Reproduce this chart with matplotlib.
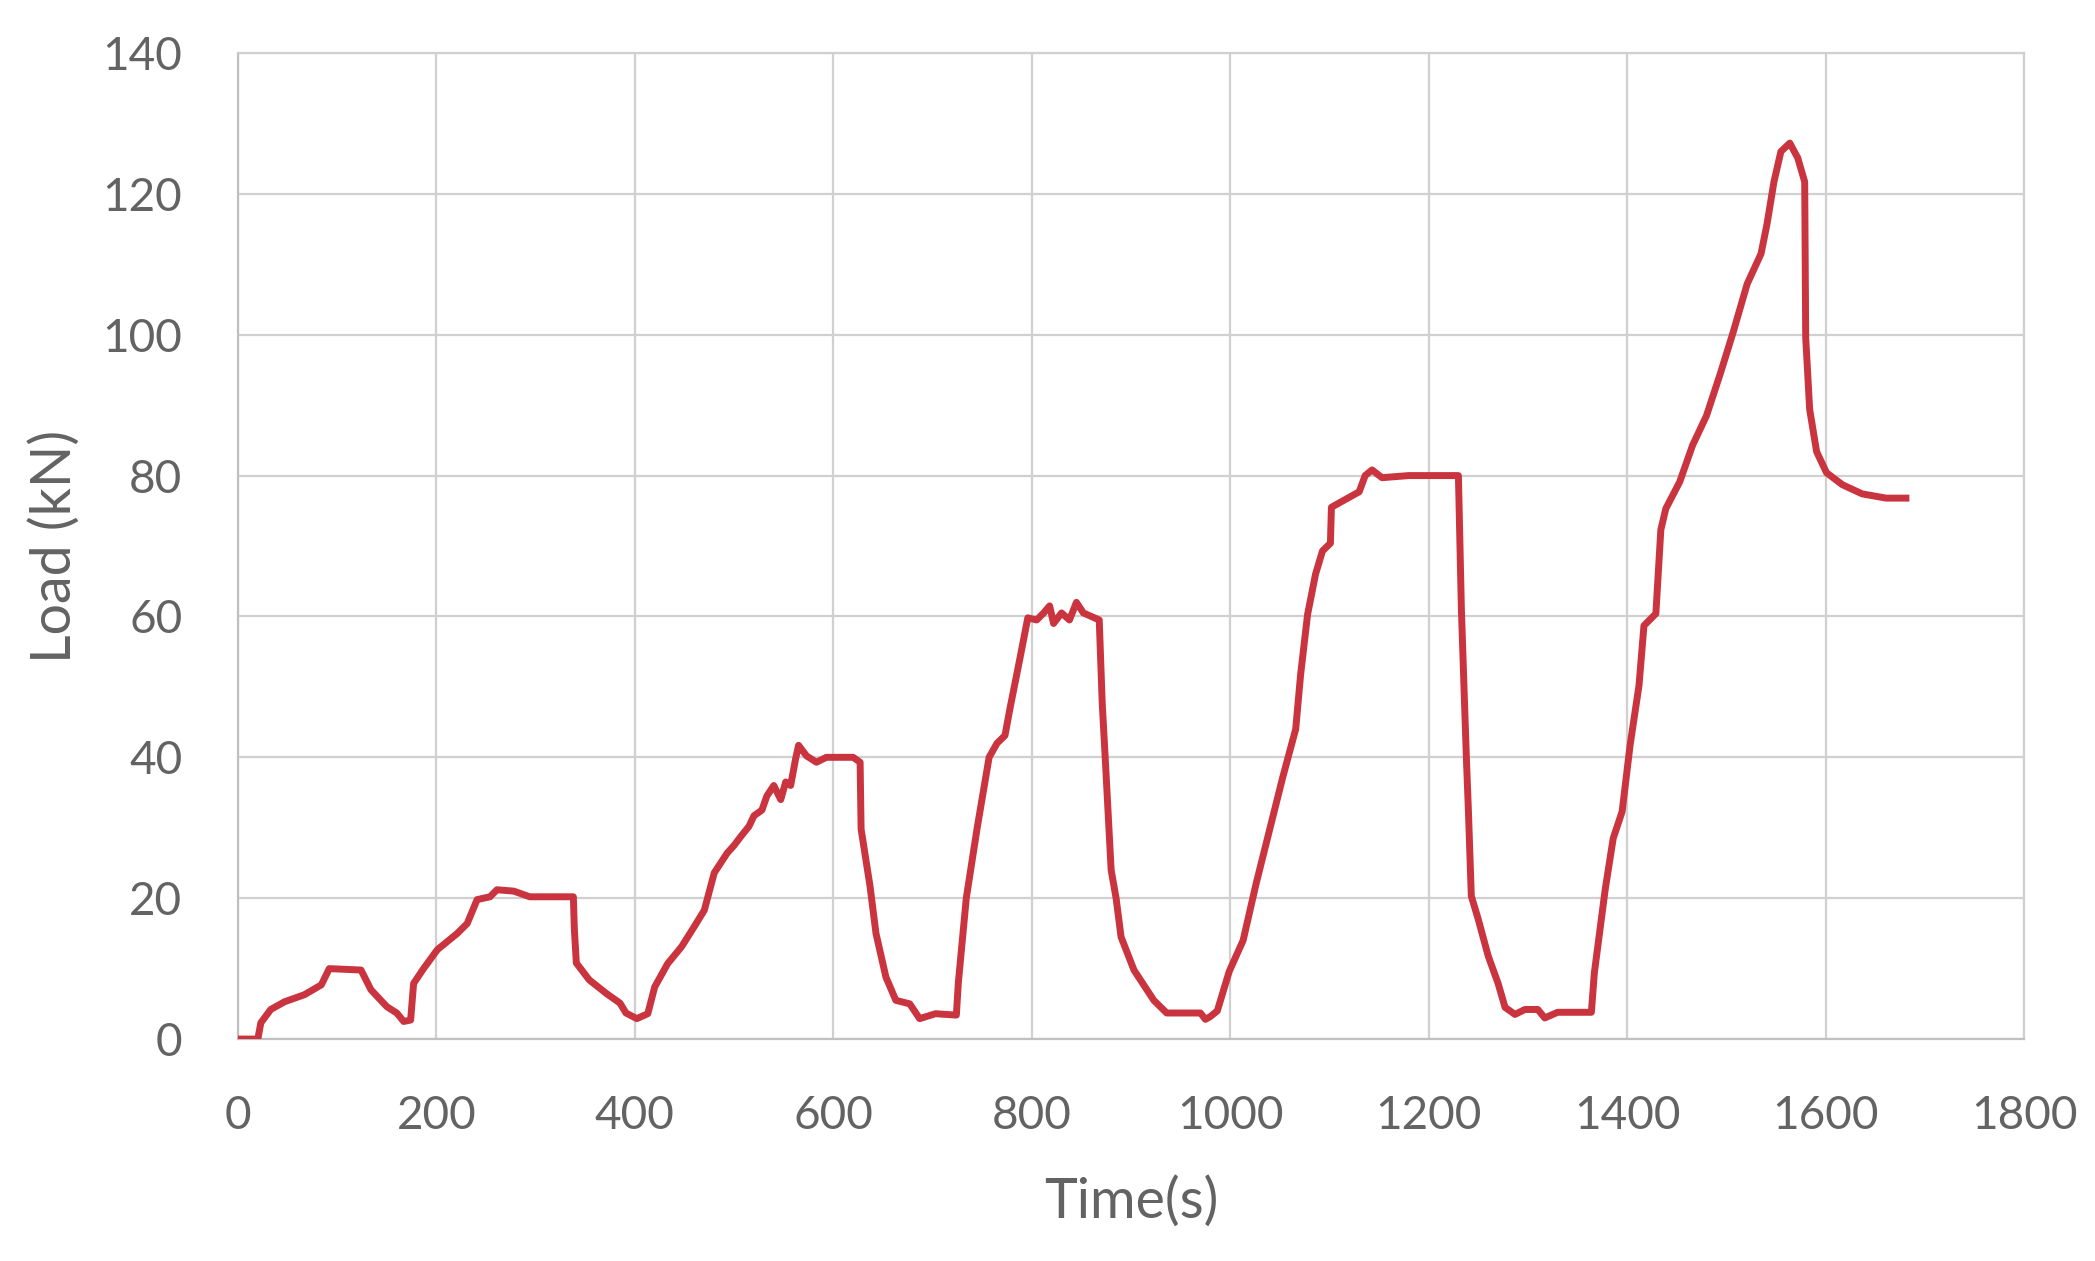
import matplotlib.pyplot as plt

plt.rcParams["font.family"] = ["Lato", "DejaVu Sans"]

# load history
time_s = [0, 20, 23, 33, 47, 67, 84, 92, 124, 134, 150, 160, 167, 174, 177, 187,
          201, 221, 231, 241, 254, 261, 278, 294, 338, 339, 341, 354, 371, 385,
          391, 402, 413, 420, 433, 447, 460, 470, 480, 493, 500, 507, 515, 520,
          528, 533, 540, 547, 552, 557, 562, 565, 573, 583, 593, 620, 627, 628,
          637, 643, 653, 663, 677, 687, 703, 724, 726, 734, 745, 757, 765, 773,
          778, 788, 796, 805, 812, 818, 822, 830, 838, 845, 852, 860, 868, 871,
          874, 880, 885, 890, 903, 923, 936, 970, 975, 980, 987, 999, 1013, 1026,
          1039, 1053, 1066, 1071, 1078, 1086, 1093, 1101, 1102, 1116, 1130, 1136,
          1143, 1153, 1180, 1230, 1233, 1238, 1240, 1243, 1250, 1260, 1270, 1277,
          1287, 1297, 1310, 1317, 1330, 1364, 1367, 1378, 1386, 1395, 1403, 1412,
          1417, 1429, 1434, 1439, 1453, 1466, 1480, 1494, 1507, 1521, 1535, 1541,
          1548, 1555, 1564, 1572, 1579, 1580, 1584, 1591, 1601, 1617, 1637, 1661,
          1681]
load_kn = [0, 0, 2.3, 4.2, 5.3, 6.3, 7.7, 10, 9.8, 7, 4.6, 3.7, 2.5, 2.7, 7.9, 10,
           12.7, 15, 16.4, 19.8, 20.2, 21.2, 21, 20.2, 20.2, 15.6, 10.8, 8.4, 6.5,
           5.1, 3.7, 2.9, 3.6, 7.4, 10.7, 13.1, 16, 18.3, 23.6, 26.4, 27.5, 28.8,
           30.2, 31.7, 32.5, 34.5, 36, 34, 36.5, 36, 39.8, 41.7, 40.2, 39.3, 40,
           40, 39.3, 29.8, 21.7, 15, 8.8, 5.5, 5, 2.9, 3.6, 3.4, 8, 20, 30, 40, 42,
           43.1, 46.9, 54, 59.8, 59.5, 60.5, 61.5, 59, 60.5, 59.5, 62, 60.5, 60,
           59.5, 47.7, 40, 24, 20, 14.5, 9.8, 5.5, 3.7, 3.7, 2.8, 3.2, 4, 9.6, 14,
           22, 29.3, 37.2, 44, 51.8, 60.3, 66, 69.3, 70.4, 75.5, 76.6, 77.7, 80,
           80.8, 79.7, 80, 80, 61, 40, 32.7, 20.3, 17, 11.8, 7.9, 4.5, 3.5, 4.2,
           4.2, 3, 3.8, 3.8, 9.4, 21.3, 28.5, 32.3, 41.7, 50.2, 58.7, 60.4, 72.3,
           75.3, 79.1, 84.3, 88.5, 94.5, 100.4, 107.2, 111.5, 115.7, 121.7, 126,
           127.2, 125.1, 121.7, 99.6, 89.4, 83.4, 80.4, 78.7, 77.4, 76.8, 76.8]

x_ticks = [0, 200, 400, 600, 800, 1000, 1200, 1400, 1600, 1800]
y_ticks = [0, 20, 40, 60, 80, 100, 120, 140]

sGrid = '#d0d0d0'
sText = '#636363'

fig = plt.figure(figsize=(20.95, 12.61), dpi=100)
ax = fig.add_axes([0.1136, 0.176, 0.8525, 0.782])

ax.plot(time_s, load_kn, color='#c9343f', linewidth=5.0, solid_joinstyle='round', zorder=3)

ax.set_xlim(0, 1800)
ax.set_ylim(0, 140)
ax.set_xticks(x_ticks)
ax.set_yticks(y_ticks)
ax.grid(True, color=sGrid, linewidth=1.6)
for sSide in ['left', 'right', 'top', 'bottom']:
    ax.spines[sSide].set_color(sGrid)
    ax.spines[sSide].set_linewidth(1.6)
ax.spines['left'].set_color('#c0c0c0')
ax.spines['bottom'].set_color('#c0c0c0')

ax.tick_params(axis='both', length=0, labelsize=33, labelcolor=sText)
ax.tick_params(axis='x', pad=40)
ax.tick_params(axis='y', pad=40)

ax.set_xlabel('Time(s)', fontsize=40, color=sText, labelpad=28)
ax.set_ylabel('Load (kN)', fontsize=40, color=sText, labelpad=16)

plt.savefig('out.png', dpi=100)
